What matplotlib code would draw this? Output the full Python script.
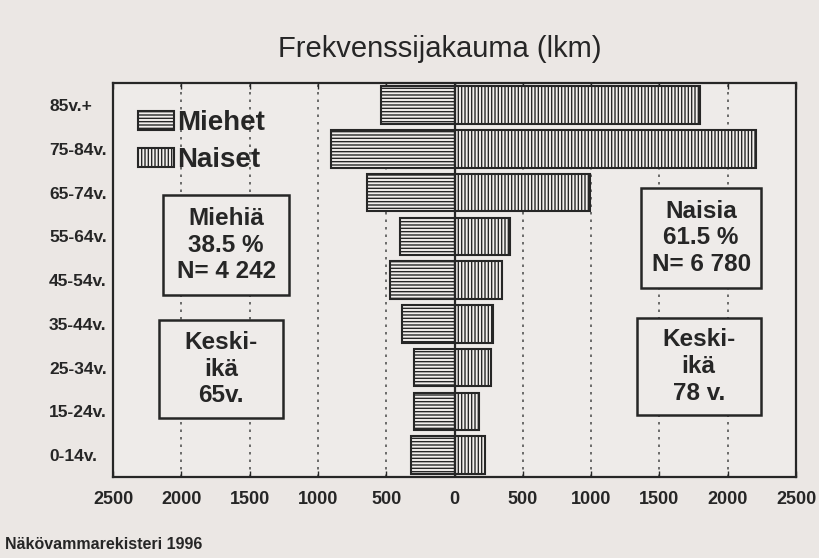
import matplotlib
matplotlib.use("Agg")
import matplotlib.pyplot as plt
from matplotlib.patches import Rectangle, Patch

categories = ["0-14v.", "15-24v.", "25-34v.", "35-44v.", "45-54v.",
              "55-64v.", "65-74v.", "75-84v.", "85v.+"]
men = [320, 298, 298, 385, 473, 400, 640, 902, 538]
women = [220, 178, 265, 280, 345, 405, 990, 2210, 1800]
xticks = [-2500, -2000, -1500, -1000, -500, 0, 500, 1000, 1500, 2000, 2500]
xticklabels = ["2500", "2000", "1500", "1000", "500", "0", "500", "1000", "1500", "2000", "2500"]
gridx = [-2000, -1500, -1000, -500, 500, 1000, 1500, 2000]

bg = "#ebe7e4"
ink = "#262626"
plt.rcParams["font.family"] = ["Liberation Sans", "DejaVu Sans"]
plt.rcParams["hatch.linewidth"] = 1.0

fig = plt.figure(figsize=(8.19, 5.58), dpi=100, facecolor=bg)
ax = fig.add_axes([0.138, 0.145, 0.834, 0.706], facecolor="#eeebe9")

y = list(range(len(categories)))
for xv in gridx:
    ax.axvline(xv, color="#555555", lw=1.2, ls=(0, (1.5, 3)), zorder=1)

ax.barh(y, [-m for m in men], height=0.86, color="#f2efed", edgecolor=ink,
        hatch="-----", lw=1.5, zorder=3)
ax.barh(y, women, height=0.86, color="#f2efed", edgecolor=ink,
        hatch="|||||", lw=1.5, zorder=3)
ax.axvline(0, color=ink, lw=1.6, zorder=4)

ax.set_xlim(-2500, 2500)
ax.set_ylim(-0.5, len(categories) - 0.5)
ax.set_xticks(xticks)
ax.set_xticklabels(xticklabels, fontsize=13, fontweight="bold", color=ink)
ax.set_yticks(y)
ax.set_yticklabels(categories, fontsize=12.5, fontweight="bold", color=ink)
for lab in ax.get_yticklabels():
    lab.set_horizontalalignment("left")
ax.tick_params(axis="y", length=0, pad=46)
ax.tick_params(axis="x", direction="in", length=4, width=1, color=ink, pad=10,
               top=True)
for s in ax.spines.values():
    s.set_color(ink)
    s.set_linewidth(1.6)

# legend
handles = [Patch(facecolor="#f2efed", edgecolor=ink, hatch="-----", lw=1.5, label="Miehet"),
           Patch(facecolor="#f2efed", edgecolor=ink, hatch="|||||", lw=1.5, label="Naiset")]
leg = ax.legend(handles=handles, loc="upper left", bbox_to_anchor=(0.0, 0.995),
                frameon=False, prop={"size": 20, "weight": "bold"},
                handlelength=1.3, handleheight=0.7, handletextpad=0.1,
                labelspacing=0.4)
for t in leg.get_texts():
    t.set_color(ink)
leg.set_zorder(6)

boxes = [
    ((0.073, 0.462, 0.185, 0.254), "Miehiä\n38.5 %\nN= 4 242"),
    ((0.068, 0.150, 0.181, 0.248), "Keski-\nikä\n65v."),
    ((0.773, 0.480, 0.176, 0.254), "Naisia\n61.5 %\nN= 6 780"),
    ((0.767, 0.157, 0.181, 0.247), "Keski-\nikä\n78 v."),
]
for (x0, y0, w, h), txt in boxes:
    ax.add_patch(Rectangle((x0, y0), w, h, transform=ax.transAxes,
                           facecolor="#eeebe9", edgecolor=ink, lw=1.8, zorder=5))
    ax.text(x0 + w / 2, y0 + h / 2, txt, transform=ax.transAxes, ha="center",
            va="center", fontsize=17.5, fontweight="bold", color=ink,
            linespacing=1.2, zorder=6)

fig.text(0.537, 0.913, "Frekvenssijakauma (lkm)", ha="center", va="center",
         fontsize=21, color=ink)
fig.text(0.006, 0.025, "Näkövammarekisteri 1996", ha="left", va="center",
         fontsize=11.5, fontweight="bold", color=ink)

fig.savefig("out.png", dpi=100, facecolor=bg)
